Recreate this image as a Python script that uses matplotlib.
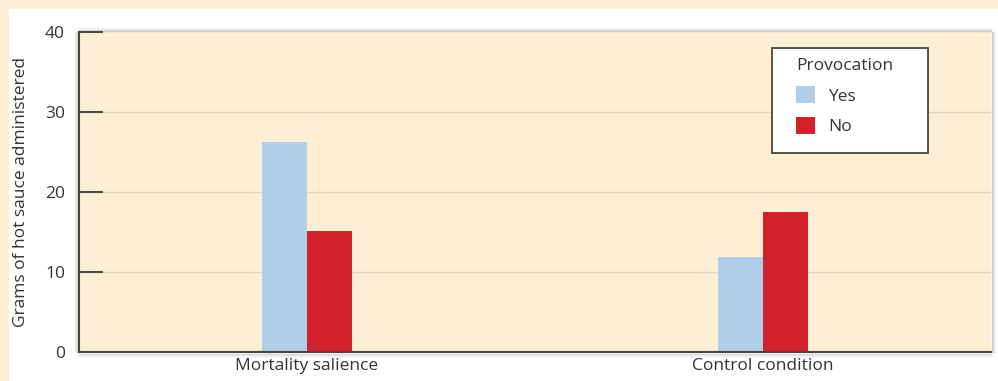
import matplotlib
matplotlib.use("Agg")
import matplotlib.pyplot as plt
import numpy as np
from matplotlib.patches import Rectangle

categories = ["Mortality salience", "Control condition"]
series_names = ["Yes", "No"]
yes_values = [26.2, 11.9]
no_values = [15.1, 17.5]
yticks = [0, 10, 20, 30, 40]
legend_title = "Provocation"
ylabel = "Grams of hot sauce administered"

plt.rcParams['font.family'] = ['Open Sans', 'DejaVu Sans']

cream = "#FDEFD4"
blue = "#AFCFE8"
red = "#D3212B"
dark = "#4a4538"
text_c = "#333333"

W, H = 998, 381
fig = plt.figure(figsize=(W/100, H/100), dpi=100)
fig.patch.set_facecolor(cream)
# white panel
fig.add_artist(Rectangle((9/W, 0), 1 - 9/W, 1 - 9/H, transform=fig.transFigure,
                         facecolor="white", edgecolor="none", zorder=0))

ax_l, ax_r, ax_t, ax_b = 79, 991, 32, 352
ax = fig.add_axes([ax_l/W, (H-ax_b)/H, (ax_r-ax_l)/W, (ax_b-ax_t)/H])
ax.set_facecolor(cream)

def px_to_ax(px, py):
    return (px - ax_l)/(ax_r - ax_l), (ax_b - py)/(ax_b - ax_t)

x = np.arange(len(categories))
w = 0.099
ax.bar(x - w/2, yes_values, width=w, color=blue, label=series_names[0], zorder=3)
ax.bar(x + w/2, no_values, width=w, color=red, label=series_names[1], zorder=3)

ax.set_xlim(-0.5, 1.5)
ax.set_ylim(0, 40)
ax.set_yticks(yticks)
ax.set_yticklabels([str(t) for t in yticks], fontsize=12.5, color=text_c)
ax.set_xticks(x)
ax.set_xticklabels(categories, fontsize=12.5, color=text_c)
ax.tick_params(axis='x', length=0, pad=4)
ax.tick_params(axis='y', direction='in', length=17.3, width=1.4, color=dark, pad=10)

for t in [10, 20, 30]:
    ax.axhline(t, color="#DDD3C0", lw=1, zorder=1)

for s in ["top", "right"]:
    ax.spines[s].set_visible(False)
for s in ["left", "bottom"]:
    ax.spines[s].set_color(dark)
    ax.spines[s].set_linewidth(1.5)
    ax.spines[s].set_zorder(4)

# subtle shadow on edges
for i, a in enumerate([0.35, 0.2, 0.1, 0.05]):
    dy = (i + 1) / (ax_b - ax_t)
    dx = (i + 1) / (ax_r - ax_l)
    ax.plot([0, 1], [1 + dy, 1 + dy], transform=ax.transAxes, color="gray",
            alpha=a, lw=1, clip_on=False, zorder=0)
    ax.plot([1 + dx, 1 + dx], [0, 1], transform=ax.transAxes, color="gray",
            alpha=a, lw=1, clip_on=False, zorder=0)
    ax.plot([-dx - 1/(ax_r-ax_l), -dx - 1/(ax_r-ax_l)], [0, 1], transform=ax.transAxes, color="gray",
            alpha=a*0.7, lw=1, clip_on=False, zorder=0)
    ax.plot([0, 1], [-dy - 1/(ax_b-ax_t), -dy - 1/(ax_b-ax_t)], transform=ax.transAxes, color="gray",
            alpha=a*0.7, lw=1, clip_on=False, zorder=0)

ax.set_ylabel(ylabel, fontsize=12.5, color=text_c)
ax.yaxis.set_label_coords((29 - ax_l)/(ax_r - ax_l), 0.5)

# legend frame drawn explicitly
fx0, fy0 = px_to_ax(772, 153)
fx1, fy1 = px_to_ax(928, 48)
ax.add_patch(Rectangle((fx0, fy0), fx1 - fx0, fy1 - fy0, transform=ax.transAxes,
                       facecolor="white", edgecolor=dark, lw=1.3, zorder=5))
lx, ly = px_to_ax(796, 58)
leg = ax.legend(title=legend_title, loc="upper left", bbox_to_anchor=(lx, ly),
                frameon=False, fontsize=12.5, title_fontsize=12.5,
                handlelength=1.1, handleheight=1.1, handletextpad=0.75, borderpad=0,
                labelspacing=0.72, borderaxespad=0)
leg.set_zorder(6)
leg._legend_box.align = "left"
leg.get_title().set_color(text_c)
for t in leg.get_texts():
    t.set_color(text_c)

fig.savefig("out.png", dpi=100, facecolor=fig.get_facecolor())
